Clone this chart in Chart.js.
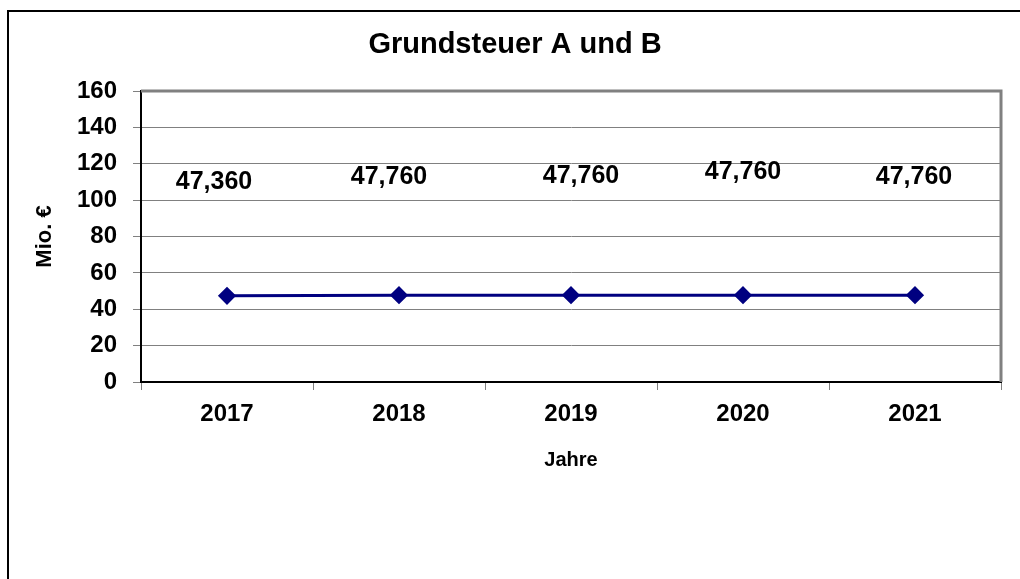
<!DOCTYPE html>
<html>
<head>
<meta charset="utf-8">
<script src="https://cdn.jsdelivr.net/npm/chart.js@4/dist/chart.umd.min.js"></script>
<style>
  body { margin: 0; background: #fff; }
  #wrap { width: 1020px; height: 579px; }
</style>
</head>
<body>
<div id="wrap"><canvas id="grundsteuerChart" width="1020" height="579"></canvas></div>
<script>
// chart data
const years = ['2017', '2018', '2019', '2020', '2021'];
const grundsteuer = [47.36, 47.76, 47.76, 47.76, 47.76];
const yTicks = [0, 20, 40, 60, 80, 100, 120, 140, 160];

const fontFamily = '"Liberation Sans", Arial, sans-serif';
const navy = '#000080';

// label shifts (px) relative to each point, as placed in the original
const labelShift = [[-13, -114], [-10, -118], [10, -119], [0, -123], [-1, -118]];

// outer frame + plot border
const framePlugin = {
    id: 'frame',
    beforeDraw(chart) {
        const ctx = chart.ctx;
        ctx.save();
        ctx.fillStyle = '#fff';
        ctx.fillRect(0, 0, chart.width, chart.height);
        ctx.strokeStyle = '#000';
        ctx.lineWidth = 2;
        ctx.beginPath();
        ctx.moveTo(8, chart.height + 5);
        ctx.lineTo(8, 11);
        ctx.lineTo(chart.width + 5, 11);
        ctx.stroke();
        ctx.restore();
    },
    afterDraw(chart) {
        const a = chart.chartArea;
        const ctx = chart.ctx;
        ctx.save();
        ctx.strokeStyle = '#808080';
        ctx.lineWidth = 3;
        ctx.beginPath();
        ctx.moveTo(a.left, a.top);
        ctx.lineTo(a.right, a.top);
        ctx.lineTo(a.right, a.bottom);
        ctx.stroke();
        ctx.restore();
    }
};

// value labels above the points
const valueLabels = {
    id: 'valueLabels',
    afterDatasetsDraw(chart) {
        const ctx = chart.ctx;
        const meta = chart.getDatasetMeta(0);
        ctx.save();
        ctx.font = 'bold 25px ' + fontFamily;
        ctx.fillStyle = '#000';
        ctx.textAlign = 'center';
        ctx.textBaseline = 'middle';
        meta.data.forEach((pt, i) => {
            const txt = grundsteuer[i].toFixed(3).replace('.', ',');
            ctx.fillText(txt, pt.x + labelShift[i][0], pt.y + labelShift[i][1]);
        });
        ctx.restore();
    }
};

const ctx = document.getElementById('grundsteuerChart').getContext('2d');
const chart = new Chart(ctx, {
    type: 'line',
    data: {
        labels: years,
        datasets: [{
            label: 'Grundsteuer A und B',
            data: grundsteuer,
            borderColor: navy,
            backgroundColor: navy,
            borderWidth: 3,
            pointStyle: 'rectRot',
            pointRadius: 7,
            pointHoverRadius: 7,
            pointBackgroundColor: navy,
            pointBorderColor: navy,
            tension: 0,
            fill: false
        }]
    },
    options: {
        responsive: false,
        animation: false,
        layout: {
            padding: { left: 29, right: 19, top: 0, bottom: 0 }
        },
        scales: {
            x: {
                offset: true,
                grid: {
                    offset: true,
                    drawOnChartArea: false,
                    tickLength: 8,
                    color: '#808080',
                    lineWidth: 1
                },
                border: { color: '#000', width: 2 },
                ticks: {
                    color: '#000',
                    padding: 10,
                    font: { family: fontFamily, size: 24, weight: 'bold' }
                },
                title: {
                    display: true,
                    text: 'Jahre',
                    color: '#000',
                    font: { family: fontFamily, size: 20, weight: 'bold' },
                    padding: { top: 0, bottom: 107 }
                },
                afterFit(scale) { scale.height = 197; }
            },
            y: {
                min: 0,
                max: 160,
                afterBuildTicks(scale) {
                    scale.ticks = yTicks.map(v => ({ value: v }));
                },
                grid: {
                    color: '#808080',
                    lineWidth: 1,
                    tickLength: 8
                },
                border: { color: '#000', width: 2 },
                ticks: {
                    color: '#000',
                    padding: 16,
                    font: { family: fontFamily, size: 24, weight: 'bold' }
                },
                title: {
                    display: true,
                    text: 'Mio. €',
                    color: '#000',
                    font: { family: fontFamily, size: 22, weight: 'bold' },
                    padding: { top: 3, bottom: 0 }
                },
                afterFit(scale) { scale.width = 112; }
            }
        },
        plugins: {
            legend: { display: false },
            tooltip: { enabled: false },
            title: {
                display: true,
                text: 'Grundsteuer A und B',
                color: '#000',
                font: { family: fontFamily, size: 29, weight: 'bold' },
                padding: { top: 28, bottom: 28.2 }
            }
        }
    },
    plugins: [framePlugin, valueLabels]
});
</script>
</body>
</html>
